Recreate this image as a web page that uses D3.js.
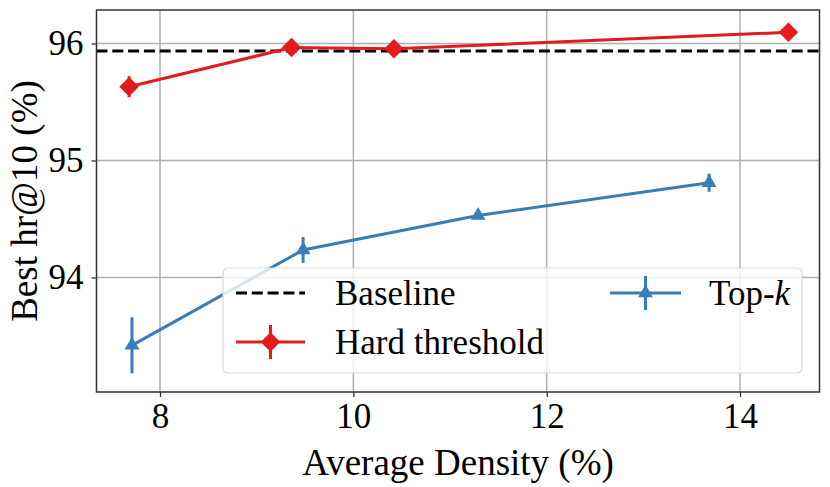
<!DOCTYPE html>
<html>
<head>
<meta charset="utf-8">
<script src="https://cdn.jsdelivr.net/npm/d3@7"></script>
<style>
  body { margin: 0; background: #fff; }
  svg text { font-family: "Liberation Serif", "DejaVu Serif", serif; fill: #000; }
</style>
</head>
<body>
<svg id="chart" width="830" height="487"></svg>
<script>
// Data
const hardDensity = [7.68, 9.36, 10.42, 14.5];
const hardScore   = [95.63, 95.965, 95.955, 96.095];
const hardErr     = [0.09, 0.02, 0.02, 0.02];

const topkDensity = [7.71, 9.48, 11.29, 13.68];
const topkScore   = [93.42, 94.235, 94.53, 94.81];
const topkErr     = [0.24, 0.11, 0.03, 0.077];

const baselineScore = 95.935;

const xTicks = [8, 10, 12, 14];
const yTicks = [94, 95, 96];

const red = "#e41a1c";
const blue = "#377eb8";

const svg = d3.select("#chart");
const margin = { left: 96.5, right: 10.5, top: 10, bottom: 95 };
const width = 830, height = 487;

// Scales
const xScale = d3.scaleLinear()
    .domain([7.343, 14.822])
    .range([margin.left, width - margin.right]);
const yScale = d3.scaleLinear()
    .domain([93.021, 96.286])
    .range([height - margin.bottom, margin.top]);

const x0 = margin.left, x1 = width - margin.right;
const y0 = height - margin.bottom, y1 = margin.top;

// Grid
const grid = svg.append("g");
grid.selectAll("line.vx")
    .data(xTicks)
    .enter().append("line")
    .attr("x1", d => xScale(d)).attr("x2", d => xScale(d))
    .attr("y1", y1).attr("y2", y0)
    .attr("stroke", "#b0b0b0").attr("stroke-width", 1.5);
grid.selectAll("line.hy")
    .data(yTicks)
    .enter().append("line")
    .attr("y1", d => yScale(d)).attr("y2", d => yScale(d))
    .attr("x1", x0).attr("x2", x1)
    .attr("stroke", "#b0b0b0").attr("stroke-width", 1.5);

// Axes
const xAxis = d3.axisBottom(xScale).tickValues(xTicks).tickSize(5).tickPadding(6).tickFormat(d3.format("d"));
const yAxis = d3.axisLeft(yScale).tickValues(yTicks).tickSize(5).tickPadding(8).tickFormat(d3.format("d"));

const gx = svg.append("g")
    .attr("transform", `translate(0, ${y0})`)
    .call(xAxis);
gx.select(".domain").remove();
gx.selectAll("line").attr("stroke", "#333").attr("stroke-width", 1.3);
gx.selectAll("text")
    .style("font-size", "35px")
    .style("font-family", "Liberation Serif, serif")
    .attr("fill", "#000");

const gy = svg.append("g")
    .attr("transform", `translate(${x0}, 0)`)
    .call(yAxis);
gy.select(".domain").remove();
gy.selectAll("line").attr("stroke", "#333").attr("stroke-width", 1.3);
gy.selectAll("text")
    .style("font-size", "35px")
    .style("font-family", "Liberation Serif, serif")
    .attr("fill", "#000");

// Baseline
svg.append("line")
    .attr("x1", x0).attr("x2", x1)
    .attr("y1", yScale(baselineScore)).attr("y2", yScale(baselineScore))
    .attr("stroke", "#000").attr("stroke-width", 3)
    .attr("stroke-dasharray", "11,4.8");

const line = d3.line().x(d => xScale(d[0])).y(d => yScale(d[1]));
const diamond = d3.symbol().type(d3.symbolSquare).size(190);
const triangle = d3.symbol().type(d3.symbolTriangle).size(95);

function drawSeries(xs, ys, errs, color, symbol, rot) {
    const pts = xs.map((x, i) => [x, ys[i], errs[i]]);
    const g = svg.append("g");
    g.append("path")
        .datum(pts)
        .attr("d", line)
        .attr("fill", "none")
        .attr("stroke", color)
        .attr("stroke-width", 3);
    g.selectAll("line.err")
        .data(pts)
        .enter().append("line")
        .attr("x1", d => xScale(d[0])).attr("x2", d => xScale(d[0]))
        .attr("y1", d => yScale(d[1] - d[2])).attr("y2", d => yScale(d[1] + d[2]))
        .attr("stroke", color).attr("stroke-width", 3);
    g.selectAll("path.mk")
        .data(pts)
        .enter().append("path")
        .attr("d", symbol)
        .attr("transform", d => `translate(${xScale(d[0])},${yScale(d[1])}) rotate(${rot})`)
        .attr("fill", color);
}

drawSeries(hardDensity, hardScore, hardErr, red, diamond, 45);
drawSeries(topkDensity, topkScore, topkErr, blue, triangle, 0);

// Frame
svg.append("rect")
    .attr("x", x0).attr("y", y1)
    .attr("width", x1 - x0).attr("height", y0 - y1)
    .attr("fill", "none").attr("stroke", "#333").attr("stroke-width", 1.5);

// Axis labels
svg.append("text")
    .attr("x", (x0 + x1) / 2).attr("y", 475)
    .attr("text-anchor", "middle")
    .style("font-size", "37px")
    .text("Average Density (%)");
svg.append("text")
    .attr("transform", `translate(37, ${(y0 + y1) / 2}) rotate(-90)`)
    .attr("text-anchor", "middle")
    .style("font-size", "37px")
    .text("Best hr@10 (%)");

// Legend
const legend = svg.append("g");
legend.append("rect")
    .attr("x", 223).attr("y", 268)
    .attr("width", 579).attr("height", 105)
    .attr("rx", 5)
    .attr("fill", "#fff").attr("fill-opacity", 0.8)
    .attr("stroke", "#d9d9d9").attr("stroke-width", 1.2);

// Baseline entry
legend.append("line")
    .attr("x1", 236).attr("x2", 305).attr("y1", 293).attr("y2", 293)
    .attr("stroke", "#000").attr("stroke-width", 3)
    .attr("stroke-dasharray", "11,4.8");
legend.append("text").attr("x", 335).attr("y", 305)
    .style("font-size", "35px").text("Baseline");

// Hard threshold entry
legend.append("line")
    .attr("x1", 236).attr("x2", 305).attr("y1", 342).attr("y2", 342)
    .attr("stroke", red).attr("stroke-width", 3);
legend.append("line")
    .attr("x1", 270.5).attr("x2", 270.5).attr("y1", 325).attr("y2", 359)
    .attr("stroke", red).attr("stroke-width", 3);
legend.append("path")
    .attr("d", diamond)
    .attr("transform", "translate(270.5,342) rotate(45)")
    .attr("fill", red);
legend.append("text").attr("x", 335).attr("y", 354)
    .style("font-size", "35px").text("Hard threshold");

// Top-k entry
legend.append("line")
    .attr("x1", 610).attr("x2", 681).attr("y1", 293).attr("y2", 293)
    .attr("stroke", blue).attr("stroke-width", 3);
legend.append("line")
    .attr("x1", 645.5).attr("x2", 645.5).attr("y1", 276).attr("y2", 310)
    .attr("stroke", blue).attr("stroke-width", 3);
legend.append("path")
    .attr("d", triangle)
    .attr("transform", "translate(645.5,293)")
    .attr("fill", blue);
const tk = legend.append("text").attr("x", 709).attr("y", 305)
    .style("font-size", "35px");
tk.append("tspan").text("Top-");
tk.append("tspan").style("font-style", "italic").text("k");
</script>
</body>
</html>
